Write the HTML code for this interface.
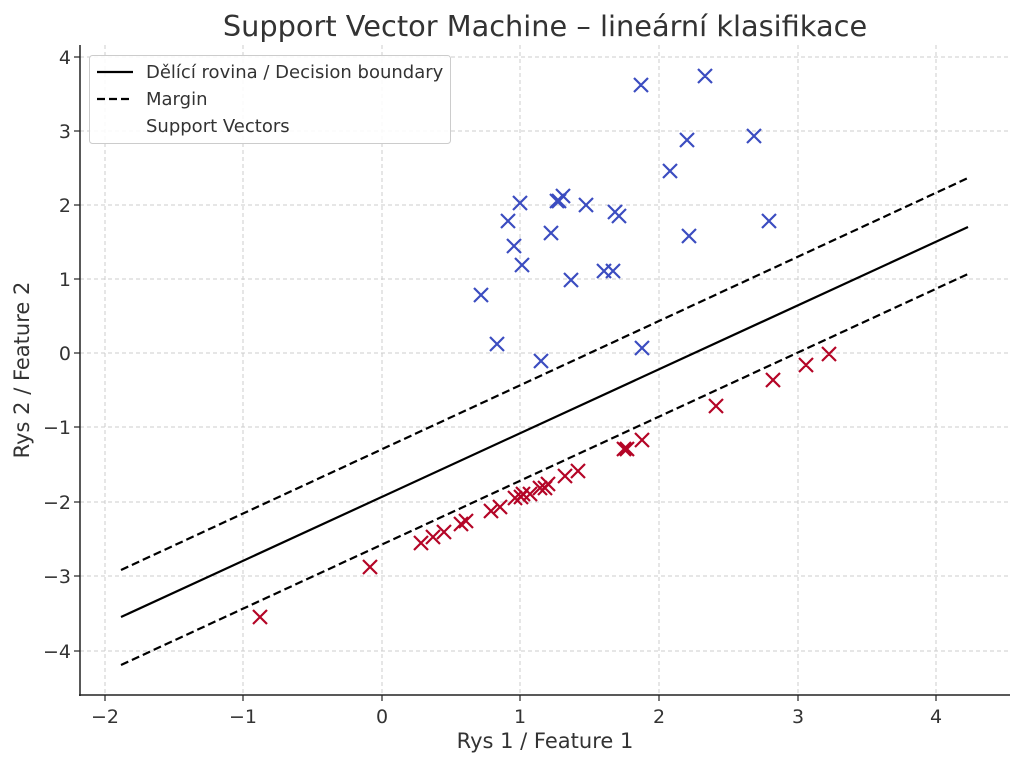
<!DOCTYPE html>
<html><head><meta charset="utf-8"><style>body{margin:0;background:#fff}svg{display:block}text{font-family:"DejaVu Sans","Liberation Sans",sans-serif;fill:#333}</style></head><body>
<svg width="1024" height="765" xmlns="http://www.w3.org/2000/svg">
<text x="545" y="36" font-size="28.8" text-anchor="middle">Support Vector Machine – lineární klasifikace</text>
<g stroke="#ccc" stroke-dasharray="4,3" stroke-width="1">
<line x1="105" y1="45" x2="105" y2="695"/><line x1="243" y1="45" x2="243" y2="695"/><line x1="382" y1="45" x2="382" y2="695"/><line x1="520" y1="45" x2="520" y2="695"/><line x1="659" y1="45" x2="659" y2="695"/><line x1="798" y1="45" x2="798" y2="695"/><line x1="936" y1="45" x2="936" y2="695"/>
<line x1="80" y1="57" x2="1010" y2="57"/><line x1="80" y1="131" x2="1010" y2="131"/><line x1="80" y1="205" x2="1010" y2="205"/><line x1="80" y1="279" x2="1010" y2="279"/><line x1="80" y1="353" x2="1010" y2="353"/><line x1="80" y1="427" x2="1010" y2="427"/><line x1="80" y1="502" x2="1010" y2="502"/><line x1="80" y1="576" x2="1010" y2="576"/><line x1="80" y1="651" x2="1010" y2="651"/>
</g>
<g stroke="#000" stroke-width="2.2" fill="none">
<line x1="121" y1="617" x2="968" y2="227"/>
<line x1="121" y1="570" x2="968" y2="178" stroke-dasharray="8,4"/>
<line x1="121" y1="665" x2="968" y2="274" stroke-dasharray="8,4"/>
</g>
<path stroke="#3b4cc0" stroke-width="2.2" fill="none" d="
M634 78l14 14m0-14l-14 14 M698 69l14 14m0-14l-14 14 M680 133l14 14m0-14l-14 14 M747 129l14 14m0-14l-14 14 M663 164l14 14m0-14l-14 14 M513 196l14 14m0-14l-14 14 M550 194l14 14m0-14l-14 14 M556 189l14 14m0-14l-14 14 M579 198l14 14m0-14l-14 14 M608 205l14 14m0-14l-14 14 M612 209l14 14m0-14l-14 14 M501 214l14 14m0-14l-14 14 M544 226l14 14m0-14l-14 14 M682 229l14 14m0-14l-14 14 M762 214l14 14m0-14l-14 14 M507 239l14 14m0-14l-14 14 M515 258l14 14m0-14l-14 14 M564 273l14 14m0-14l-14 14 M597 264l14 14m0-14l-14 14 M606 264l14 14m0-14l-14 14 M474 288l14 14m0-14l-14 14 M490 337l14 14m0-14l-14 14 M534 354l14 14m0-14l-14 14 M635 341l14 14m0-14l-14 14 M552 194l14 14m0-14l-14 14"/>
<path stroke="#b40426" stroke-width="2.2" fill="none" d="
M253 610l14 14m0-14l-14 14 M363 560l14 14m0-14l-14 14 M414 536l14 14m0-14l-14 14 M426 530l14 14m0-14l-14 14 M437 525l14 14m0-14l-14 14 M454 517l14 14m0-14l-14 14 M459 514l14 14m0-14l-14 14 M484 504l14 14m0-14l-14 14 M493 500l14 14m0-14l-14 14 M508 491l14 14m0-14l-14 14 M516 487l14 14m0-14l-14 14 M523 487l14 14m0-14l-14 14 M533 481l14 14m0-14l-14 14 M541 477l14 14m0-14l-14 14 M558 469l14 14m0-14l-14 14 M571 464l14 14m0-14l-14 14 M617 442l14 14m0-14l-14 14 M620 442l14 14m0-14l-14 14 M635 433l14 14m0-14l-14 14 M709 399l14 14m0-14l-14 14 M766 373l14 14m0-14l-14 14 M799 358l14 14m0-14l-14 14 M822 347l14 14m0-14l-14 14 M514 490l14 14m0-14l-14 14 M538 481l14 14m0-14l-14 14"/>
<g stroke="#222" stroke-width="1.5"><line x1="80" y1="45" x2="80" y2="696"/><line x1="79" y1="695" x2="1010" y2="695"/></g>
<g stroke="#222" stroke-width="1.2">
<line x1="105" y1="695" x2="105" y2="701"/><line x1="243" y1="695" x2="243" y2="701"/><line x1="382" y1="695" x2="382" y2="701"/><line x1="520" y1="695" x2="520" y2="701"/><line x1="659" y1="695" x2="659" y2="701"/><line x1="798" y1="695" x2="798" y2="701"/><line x1="936" y1="695" x2="936" y2="701"/>
<line x1="74" y1="57" x2="80" y2="57"/><line x1="74" y1="131" x2="80" y2="131"/><line x1="74" y1="205" x2="80" y2="205"/><line x1="74" y1="279" x2="80" y2="279"/><line x1="74" y1="353" x2="80" y2="353"/><line x1="74" y1="427" x2="80" y2="427"/><line x1="74" y1="502" x2="80" y2="502"/><line x1="74" y1="576" x2="80" y2="576"/><line x1="74" y1="651" x2="80" y2="651"/>
</g>
<g font-size="19" text-anchor="middle">
<text x="105" y="723">−2</text><text x="243" y="723">−1</text><text x="382" y="723">0</text><text x="520" y="723">1</text><text x="659" y="723">2</text><text x="798" y="723">3</text><text x="936" y="723">4</text>
</g>
<g font-size="19" text-anchor="end">
<text x="71" y="64">4</text><text x="71" y="138">3</text><text x="71" y="212">2</text><text x="71" y="286">1</text><text x="71" y="360">0</text><text x="71" y="434">−1</text><text x="71" y="509">−2</text><text x="71" y="583">−3</text><text x="71" y="658">−4</text>
</g>
<text x="545" y="748" font-size="21" text-anchor="middle">Rys 1 / Feature 1</text>
<text transform="translate(29,370) rotate(-90)" font-size="21" text-anchor="middle">Rys 2 / Feature 2</text>
<rect x="89.5" y="55.5" width="361" height="88" rx="3" fill="#fff" fill-opacity="0.85" stroke="#ccc"/>
<line x1="97" y1="72" x2="133" y2="72" stroke="#000" stroke-width="2.2"/>
<line x1="97" y1="99" x2="133" y2="99" stroke="#000" stroke-width="2.2" stroke-dasharray="8,4"/>
<g font-size="18"><text x="146" y="78">Dělící rovina / Decision boundary</text><text x="146" y="105">Margin</text><text x="146" y="132">Support Vectors</text></g>
</svg>
</body></html>
